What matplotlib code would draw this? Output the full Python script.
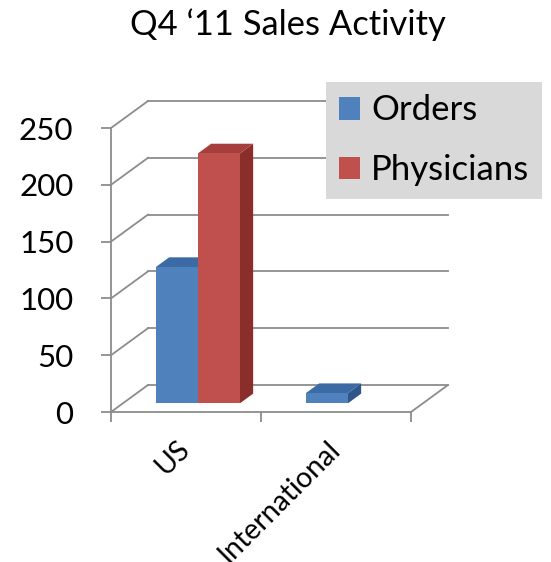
import matplotlib
matplotlib.use("Agg")
import matplotlib.pyplot as plt
import matplotlib.transforms as mtransforms
from matplotlib.patches import Polygon, Patch

# ---- data ----
categories = ["US", "International"]
series_names = ["Orders", "Physicians"]
orders = [120, 9]
physicians = [220, 0]
yticks = [0, 50, 100, 150, 200, 250]
title = "Q4 \u201811 Sales Activity"

front_colors = ["#4f81bd", "#c0504d"]
top_colors = ["#3c6aa5", "#a63f3c"]
side_colors = ["#2f5689", "#8a2e2b"]
grid_color = "#8c8c8c"

plt.rcParams["font.family"] = ["Lato", "DejaVu Sans"]

fig = plt.figure(figsize=(5.51, 5.62), dpi=100)
ax = fig.add_axes([81 / 551, 127.28 / 562, 405 / 551, 363.52 / 562])
ax.set_xlim(-0.2, 2.5)
ax.set_ylim(-20, 300)

# oblique projection for depth (fraction 0..1 of floor depth)
DX = 37 / 150.0          # in category units
DY = 27 / 1.136          # in value units


def P(x, v, d):
    return (x + d * DX, v + d * DY)


ymax = yticks[-1]
ncat = len(categories)

# back wall gridlines and left wall diagonals
for t in yticks:
    x0, y0 = P(0, t, 1)
    x1, y1 = P(ncat, t, 1)
    ax.plot([x0, x1], [y0, y1], color=grid_color, lw=1.3, zorder=1)
    fx, fy = P(0, t, 0)
    ax.plot([fx, x0], [fy, y0], color=grid_color, lw=1.3, zorder=1)

# floor right edge
a = P(ncat, 0, 0)
b = P(ncat, 0, 1)
ax.plot([a[0], b[0]], [a[1], b[1]], color=grid_color, lw=1.3, zorder=1)

# bars
bw = 0.28
d0, d1 = 0.32, 0.68
series = [orders, physicians]
for ci in range(ncat):
    center = ci + 0.5
    for si, vals in enumerate(series):
        v = vals[ci]
        if v <= 0:
            continue
        xl = center - bw * len(series) / 2 + si * bw
        xr = xl + bw
        z = 3 + ci * 2 + si
        front = [P(xl, 0, d0), P(xr, 0, d0), P(xr, v, d0), P(xl, v, d0)]
        top = [P(xl, v, d0), P(xr, v, d0), P(xr, v, d1), P(xl, v, d1)]
        side = [P(xr, 0, d0), P(xr, 0, d1), P(xr, v, d1), P(xr, v, d0)]
        ax.add_patch(Polygon(side, closed=True, facecolor=side_colors[si],
                             edgecolor="none", zorder=z))
        ax.add_patch(Polygon(top, closed=True, facecolor=top_colors[si],
                             edgecolor="none", zorder=z))
        ax.add_patch(Polygon(front, closed=True, facecolor=front_colors[si],
                             edgecolor="none", zorder=z))

# axes (front plane)
for s in ["top", "right"]:
    ax.spines[s].set_visible(False)
ax.spines["left"].set_position(("data", 0))
ax.spines["bottom"].set_position(("data", 0))
ax.spines["left"].set_bounds(0, ymax)
ax.spines["bottom"].set_bounds(0, ncat)
for s in ["left", "bottom"]:
    ax.spines[s].set_color(grid_color)
    ax.spines[s].set_linewidth(1.3)
    ax.spines[s].set_zorder(10)

ax.set_yticks(yticks)
ax.set_yticklabels([str(t) for t in yticks])
ax.tick_params(axis="y", direction="out", length=7, width=1.3, color=grid_color,
               pad=20, labelsize=22.5, labelcolor="#000000")
ax.set_xticks(range(ncat + 1))
ax.set_xticklabels([])
ax.set_xticks([c + 0.5 for c in range(ncat)], minor=True)
ax.set_xticklabels(categories, minor=True, rotation=45, ha="right", va="top")
ax.tick_params(axis="x", which="major", direction="out", length=7, width=1.3,
               color=grid_color)
ax.tick_params(axis="x", which="minor", length=0, pad=17, labelsize=20.5)
offset = mtransforms.ScaledTranslation(9 / 100, 0, fig.dpi_scale_trans)
for lbl in ax.get_xticklabels(minor=True):
    lbl.set_transform(lbl.get_transform() + offset)

# title
fig.text(288 / 551, 1 - 8 / 562, title, ha="center", va="top", fontsize=24.8,
         color="#000000")

# legend
handles = [Patch(facecolor=front_colors[i], edgecolor="none") for i in range(len(series_names))]
leg = fig.legend(handles, series_names, loc="upper right",
                 bbox_to_anchor=(542 / 551, 1 - 82 / 562), fontsize=25,
                 frameon=True, fancybox=False, handlelength=0.62, handleheight=0.62,
                 handletextpad=0.31, labelspacing=0.8, borderpad=0.36,
                 borderaxespad=0)
leg.get_frame().set_facecolor("#d9d9d9")
leg.get_frame().set_edgecolor("none")
leg.get_frame().set_alpha(1)

fig.savefig("out.png", dpi=100)
